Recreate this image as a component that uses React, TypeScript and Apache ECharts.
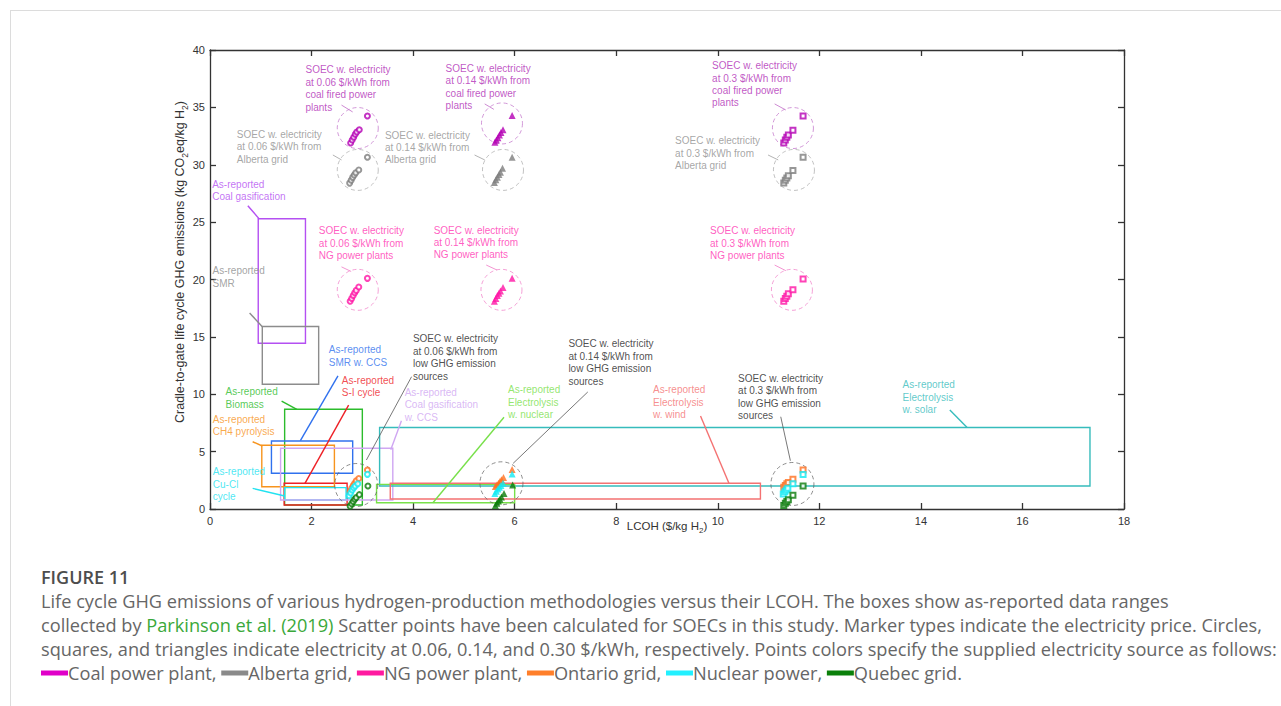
import React, { useEffect, useRef } from "react";
import * as echarts from "echarts";

// ---------- axes ----------
const X_MIN = 0;
const X_MAX = 18;
const X_INTERVAL = 2;
const Y_MIN = 0;
const Y_MAX = 40;
const Y_INTERVAL = 5;

// ---------- SOEC points (LCOH, GHG) ----------
const SOURCES = ["Coal power plant", "Alberta grid", "NG power plant", "Ontario grid", "Nuclear power", "Quebec grid"];
const PRICES = ["0.06 $/kWh", "0.14 $/kWh", "0.30 $/kWh"];

const coal006 = [[2.77, 31.9], [2.8, 32.15], [2.83, 32.4], [2.86, 32.65], [2.89, 32.85], [2.94, 33.05], [3.1, 34.25]];
const alberta006 = [[2.75, 28.4], [2.78, 28.65], [2.81, 28.9], [2.84, 29.1], [2.87, 29.3], [2.93, 29.55], [3.1, 30.65]];
const ng006 = [[2.76, 18.1], [2.79, 18.35], [2.82, 18.6], [2.85, 18.85], [2.88, 19.05], [2.93, 19.35], [3.1, 20.1]];
const ontario006 = [[2.76, 1.55], [2.79, 1.8], [2.82, 2.05], [2.85, 2.25], [2.88, 2.45], [2.93, 2.65], [3.1, 3.4]];
const nuclear006 = [[2.74, 1.15], [2.77, 1.4], [2.8, 1.65], [2.83, 1.85], [2.86, 2.0], [2.91, 2.2], [3.1, 3.02]];
const quebec006 = [[2.76, 0.25], [2.79, 0.45], [2.82, 0.65], [2.85, 0.85], [2.88, 1.0], [2.94, 1.25], [3.11, 2.0]];

const coal014 = [[5.61, 31.95], [5.64, 32.15], [5.67, 32.35], [5.7, 32.6], [5.73, 32.8], [5.77, 33.05], [5.95, 34.3]];
const alberta014 = [[5.6, 28.45], [5.63, 28.7], [5.66, 28.9], [5.69, 29.15], [5.72, 29.35], [5.76, 29.7], [5.95, 30.65]];
const ng014 = [[5.6, 18.1], [5.63, 18.35], [5.66, 18.6], [5.69, 18.8], [5.72, 19.0], [5.77, 19.3], [5.95, 20.1]];
const ontario014 = [[5.62, 1.95], [5.65, 2.1], [5.68, 2.25], [5.71, 2.4], [5.74, 2.55], [5.78, 2.75], [5.95, 3.45]];
const nuclear014 = [[5.61, 1.35], [5.64, 1.55], [5.67, 1.75], [5.7, 1.9], [5.73, 2.05], [5.77, 2.25], [5.95, 3.05]];
const quebec014 = [[5.62, 0.3], [5.65, 0.5], [5.68, 0.7], [5.71, 0.85], [5.74, 1.05], [5.79, 1.35], [5.96, 2.1]];

const coal030 = [[11.3, 31.9], [11.33, 32.15], [11.36, 32.4], [11.39, 32.6], [11.48, 33.0], [11.68, 34.25]];
const alberta030 = [[11.3, 28.4], [11.33, 28.65], [11.36, 28.85], [11.39, 29.05], [11.48, 29.5], [11.68, 30.65]];
const ng030 = [[11.3, 18.1], [11.33, 18.35], [11.36, 18.55], [11.39, 18.75], [11.48, 19.1], [11.68, 20.05]];
const ontario030 = [[11.3, 1.9], [11.33, 2.05], [11.36, 2.2], [11.39, 2.3], [11.48, 2.6], [11.68, 3.4]];
const nuclear030 = [[11.29, 1.3], [11.32, 1.5], [11.35, 1.65], [11.38, 1.8], [11.48, 2.2], [11.68, 3.0]];
const quebec030 = [[11.3, 0.3], [11.33, 0.5], [11.36, 0.65], [11.39, 0.8], [11.48, 1.2], [11.68, 2.0]];

const SOEC_006 = [coal006, alberta006, ng006, ontario006, nuclear006, quebec006];
const SOEC_014 = [coal014, alberta014, ng014, ontario014, nuclear014, quebec014];
const SOEC_030 = [coal030, alberta030, ng030, ontario030, nuclear030, quebec030];
const SOEC_BY_PRICE = [SOEC_006, SOEC_014, SOEC_030];

// dashed group circles (centres)
const CIRCLE_COAL = [[2.91, 33.2], [5.75, 33.6], [11.48, 33.2]];
const CIRCLE_ALBERTA = [[2.91, 29.55], [5.77, 29.55], [11.5, 29.55]];
const CIRCLE_NG = [[2.91, 19.1], [5.74, 19.1], [11.46, 19.1]];
const CIRCLE_LOW = [[2.88, 2.09], [5.74, 2.24], [11.47, 2.18]];

// ---------- as-reported ranges (Parkinson et al. 2019) ----------
const REPORTED_NAMES = [
  "As-reported\nCoal gasification",
  "As-reported\nSMR",
  "As-reported\nBiomass",
  "As-reported\nSMR w. CCS",
  "As-reported\nS-I cycle",
  "As-reported\nCH4 pyrolysis",
  "As-reported\nCu-Cl\ncycle",
  "As-reported\nCoal gasification\nw. CCS",
  "As-reported\nElectrolysis\nw. solar",
  "As-reported\nElectrolysis\nw. nuclear",
  "As-reported\nElectrolysis\nw. wind",
];
const REPORTED_LCOH = [
  [0.95, 1.88], [1.03, 2.14], [1.47, 3.0], [1.21, 2.81], [1.46, 2.7], [1.02, 2.45],
  [1.47, 2.68], [1.39, 3.6], [3.34, 17.33], [3.28, 6.0], [3.55, 10.84],
];
const REPORTED_GHG = [
  [14.45, 25.3], [10.87, 15.9], [0.35, 8.69], [3.11, 5.93], [0.35, 2.24], [1.94, 5.55],
  [0.79, 1.86], [0.78, 5.29], [2.0, 7.1], [0.55, 2.15], [0.87, 2.24],
];
const REPORTED_LABEL_AT = [
  [0.043, 28.84], [0.049, 21.28], [0.305, 10.76], [2.341, 14.4], [2.597, 11.78], [0.055, 8.36],
  [0.055, 3.79], [3.833, 10.71], [13.64, 11.35], [5.868, 10.91], [8.725, 10.91],
];
const REPORTED_LEADERS = [
  [0.745, 26.43, 0.96, 25.33], [0.78, 17.08, 1.03, 15.89], [1.41, 9.41, 1.71, 8.69],
  [2.52, 11.6, 1.78, 5.95], [2.73, 9.06, 1.87, 2.24], [0.84, 5.86, 1.03, 5.49],
  [0.84, 1.8, 1.47, 1.13], [3.77, 7.7, 3.56, 5.17], [14.57, 8.63, 14.91, 7.1],
  [5.79, 8.0, 4.39, 0.55], [9.66, 8.1, 10.22, 2.24],
];
const REPORTED_COLORS = [
  "#b450f2", "#8c8c8c", "#2cbc2c", "#3071ee", "#ee2026", "#f7941d",
  "#22e2f0", "#cfa6f2", "#36bcbc", "#78e04a", "#f47272",
];

// ---------- SOEC annotations ----------
const SOEC_NOTES = [
  "SOEC w. electricity\nat 0.06 $/kWh from\ncoal fired power\nplants",
  "SOEC w. electricity\nat 0.06 $/kWh from\nAlberta grid",
  "SOEC w. electricity\nat 0.14 $/kWh from\ncoal fired power\nplants",
  "SOEC w. electricity\nat 0.14 $/kWh from\nAlberta grid",
  "SOEC w. electricity\nat 0.3 $/kWh from\ncoal fired power\nplants",
  "SOEC w. electricity\nat 0.3 $/kWh from\nAlberta grid",
  "SOEC w. electricity\nat 0.06 $/kWh from\nNG power plants",
  "SOEC w. electricity\nat 0.14 $/kWh from\nNG power plants",
  "SOEC w. electricity\nat 0.3 $/kWh from\nNG power plants",
  "SOEC w. electricity\nat 0.06 $/kWh from\nlow GHG emission\nsources",
  "SOEC w. electricity\nat 0.14 $/kWh from\nlow GHG emission\nsources",
  "SOEC w. electricity\nat 0.3 $/kWh from\nlow GHG emission\nsources",
];
const SOEC_NOTE_AT = [
  [1.88, 38.8], [0.528, 33.19], [4.64, 38.95], [3.444, 33.13], [9.888, 39.17], [9.159, 32.64],
  [2.144, 24.77], [4.404, 24.85], [9.848, 24.77], [3.996, 15.36], [7.058, 14.92], [10.4, 11.93],
];
const SOEC_LEADERS = [
  [2.59, 35.2, 2.81, 34.6], [2.42, 30.85, 2.59, 30.42], [5.41, 35.3, 5.59, 34.83],
  [5.21, 30.85, 5.41, 30.42], [11.12, 35.3, 11.34, 34.77], [10.99, 30.85, 11.19, 30.42],
  [2.59, 21.1, 2.78, 20.7], [5.44, 21.26, 5.65, 20.83], [11.12, 21.26, 11.34, 20.77],
  [3.97, 11.53, 3.08, 4.27], [7.44, 10.2, 5.97, 3.98], [11.24, 8.04, 11.43, 4.21],
];
// 0 coal, 1 alberta, 2 NG, 3 low-GHG
const SOEC_NOTE_GROUP = [0, 1, 0, 1, 0, 1, 2, 2, 2, 3, 3, 3];

// ---------- caption ----------
const FIGURE_TITLE = "FIGURE 11";
const CAPTION_LINES = [
  "Life cycle GHG emissions of various hydrogen-production methodologies versus their LCOH. The boxes show as-reported data ranges",
  "collected by {g|Parkinson et al. (2019)} Scatter points have been calculated for SOECs in this study. Marker types indicate the electricity price. Circles,",
  "squares, and triangles indicate electricity at 0.06, 0.14, and 0.30 $/kWh, respectively. Points colors specify the supplied electricity source as follows:",
];

// ---------- styles ----------
const FONT = "'Liberation Sans', Arial, Helvetica, sans-serif";
const CAP_FONT = "'Open Sans', 'Noto Sans', sans-serif";
const CAP_SIZE = 18.2;
const SOURCE_COLORS = ["#b400b4", "#7d7d7d", "#ff14a5", "#ff7020", "#12eaf2", "#0a7a0a"];
const LEGEND_COLORS = ["#e000c8", "#8a8a8a", "#ff1aa0", "#ff7f2a", "#22f0ff", "#0a800a"];
const PRICE_SYMBOLS = ["emptyCircle", "triangle", "emptyRect"];
const PRICE_SIZES = [5, 7, 5];
const NOTE_COLORS = ["#b02cb6", "#8f8f8f", "#ff33b2", "#222222"];
const LEADER_COLORS = ["#c06cc6", "#a0a0a0", "#f07ac6", "#555555"];
const CIRCLE_COLORS = ["#c070c8", "#a8a8a8", "#f07ac6", "#606060"];

export default function App() {
  const ref = useRef<HTMLDivElement>(null);

  useEffect(() => {
    const chart = echarts.init(ref.current!, null, { renderer: "svg" });

    const axisLineStyle = { color: "#333", width: 1.3 };
    const series: any[] = [];

    // as-reported boxes + leader lines
    series.push({
      type: "scatter",
      name: "As-reported",
      data: [],
      silent: true,
      markArea: {
        silent: true,
        emphasis: { disabled: true },
        label: { show: false },
        data: REPORTED_NAMES.map((_, i) => [
          {
            coord: [REPORTED_LCOH[i][0], REPORTED_GHG[i][1]],
            itemStyle: { color: "rgba(0,0,0,0)", borderColor: REPORTED_COLORS[i], borderWidth: 1.4 },
          },
          { coord: [REPORTED_LCOH[i][1], REPORTED_GHG[i][0]] },
        ]),
      },
      markLine: {
        silent: true,
        symbol: ["none", "none"],
        label: { show: false },
        emphasis: { disabled: true },
        data: [
          ...REPORTED_LEADERS.map((l, i) => [
            { coord: [l[0], l[1]], lineStyle: { color: REPORTED_COLORS[i], width: 1.4, type: "solid" } },
            { coord: [l[2], l[3]] },
          ]),
          ...SOEC_LEADERS.map((l, i) => [
            {
              coord: [l[0], l[1]],
              lineStyle: { color: LEADER_COLORS[SOEC_NOTE_GROUP[i]], width: 0.8, type: "solid" },
            },
            { coord: [l[2], l[3]] },
          ]),
        ],
      },
    });

    // dashed circles
    [CIRCLE_COAL, CIRCLE_ALBERTA, CIRCLE_NG, CIRCLE_LOW].forEach((c, gi) => {
      series.push({
        type: "scatter",
        name: "group-circle-" + gi,
        data: c,
        symbol: "circle",
        symbolSize: gi === 3 ? 43 : 41,
        silent: true,
        itemStyle: { color: "rgba(0,0,0,0)", borderColor: CIRCLE_COLORS[gi], borderWidth: 0.9, borderType: [4, 3] },
      });
    });

    // SOEC points
    SOEC_BY_PRICE.forEach((group, pi) => {
      group.forEach((pts, si) => {
        series.push({
          type: "scatter",
          name: SOURCES[si] + " " + PRICES[pi],
          data: pts,
          symbol: PRICE_SYMBOLS[pi],
          symbolSize: PRICE_SIZES[pi],
          itemStyle: { color: SOURCE_COLORS[si], borderWidth: pi === 1 ? 0 : 1.4 },
          z: 5,
        });
      });
    });

    // text annotations
    const noteData = [
      ...REPORTED_NAMES.map((t, i) => ({
        value: REPORTED_LABEL_AT[i],
        label: { formatter: t, color: REPORTED_COLORS[i] },
      })),
      ...SOEC_NOTES.map((t, i) => ({
        value: SOEC_NOTE_AT[i],
        label: { formatter: t, color: NOTE_COLORS[SOEC_NOTE_GROUP[i]] },
      })),
    ];
    series.push({
      type: "scatter",
      name: "notes",
      data: noteData,
      symbolSize: 0,
      silent: true,
      itemStyle: { color: "rgba(0,0,0,0)" },
      label: {
        show: true,
        position: [0, 0],
        align: "left",
        verticalAlign: "top",
        fontSize: 10,
        lineHeight: 12.4,
        fontFamily: FONT,
      },
      z: 6,
    });

    const xBase = {
      type: "value",
      min: X_MIN,
      max: X_MAX,
      interval: X_INTERVAL,
      splitLine: { show: false },
      axisLine: { show: true, onZero: false, lineStyle: axisLineStyle },
      axisTick: { show: true, inside: true, length: 6, lineStyle: axisLineStyle },
    };
    const yBase = {
      type: "value",
      min: Y_MIN,
      max: Y_MAX,
      interval: Y_INTERVAL,
      splitLine: { show: false },
      axisLine: { show: true, onZero: false, lineStyle: axisLineStyle },
      axisTick: { show: true, inside: true, length: 6, lineStyle: axisLineStyle },
    };

    const capRich = {
      g: { fill: "#3aa83a", fontSize: CAP_SIZE, fontFamily: CAP_FONT },
    };
    const legendRich: any = {};
    LEGEND_COLORS.forEach((c, i) => {
      legendRich["s" + i] = { backgroundColor: c, width: 27, height: 5, fontSize: 5, lineHeight: 5 };
    });
    const legendText = SOURCES.map((s, i) => `{s${i}| }${s}`).join(", ") + ".";

    chart.setOption({
      animation: false,
      textStyle: { fontFamily: FONT },
      grid: { left: 210, top: 50, width: 914, height: 459, containLabel: false },
      xAxis: [
        {
          ...xBase,
          position: "bottom",
          axisLabel: { color: "#333", fontSize: 11, margin: 6, fontFamily: FONT },
          name: "{a|LCOH ($/kg H}{s|2}{a|)}",
          nameLocation: "middle",
          nameGap: 11,
          nameMoveOverlap: false,
          nameTextStyle: {
            rich: {
              a: { fontSize: 11.5, color: "#333", fontFamily: FONT, lineHeight: 14, verticalAlign: "top" },
              s: { fontSize: 8, color: "#333", fontFamily: FONT, lineHeight: 8, verticalAlign: "bottom" },
            },
          },
        },
        { ...xBase, position: "top", axisLabel: { show: false } },
      ],
      yAxis: [
        { ...yBase, position: "left", axisLabel: { color: "#333", fontSize: 11, margin: 5, fontFamily: FONT } },
        { ...yBase, position: "right", axisLabel: { show: false } },
      ],
      series,
      graphic: [
        { type: "line", silent: true, shape: { x1: 10, y1: 10.5, x2: 1281, y2: 10.5 }, style: { stroke: "#dcdcdc", lineWidth: 1 } },
        { type: "line", silent: true, shape: { x1: 10.5, y1: 10, x2: 10.5, y2: 706 }, style: { stroke: "#dcdcdc", lineWidth: 1 } },
        {
          type: "text",
          silent: true,
          x: 181,
          y: 262,
          rotation: Math.PI / 2,
          style: {
            text: "{a|Cradle-to-gate life cycle GHG emissions (kg CO}{s|2}{a|eq/kg H}{s|2}{a|)}",
            align: "center",
            verticalAlign: "middle",
            rich: {
              a: { fontSize: 12.5, fill: "#333", fontFamily: FONT, lineHeight: 16, verticalAlign: "top" },
              s: { fontSize: 8.5, fill: "#333", fontFamily: FONT, lineHeight: 9, verticalAlign: "bottom" },
            },
          },
        },
        {
          type: "text",
          silent: true,
          x: 41,
          y: 577,
          style: {
            text: FIGURE_TITLE,
            fill: "#4d4d4d",
            font: `600 18px ${CAP_FONT}`,
            verticalAlign: "middle",
          },
        },
        ...CAPTION_LINES.map((t, i) => ({
          type: "text",
          silent: true,
          x: 41,
          y: 601 + i * 24,
          style: {
            text: t,
            fill: "#666",
            font: `${CAP_SIZE}px ${CAP_FONT}`,
            verticalAlign: "middle",
            rich: capRich,
          },
        })),
        {
          type: "text",
          silent: true,
          x: 41,
          y: 673,
          style: {
            text: legendText,
            fill: "#666",
            font: `${CAP_SIZE}px ${CAP_FONT}`,
            verticalAlign: "middle",
            rich: legendRich,
          },
        },
      ],
    });

    return () => chart.dispose();
  }, []);

  return (
    <div
      ref={ref}
      style={{ position: "fixed", left: 0, top: 0, width: 1281, height: 706, background: "#fff" }}
    />
  );
}
